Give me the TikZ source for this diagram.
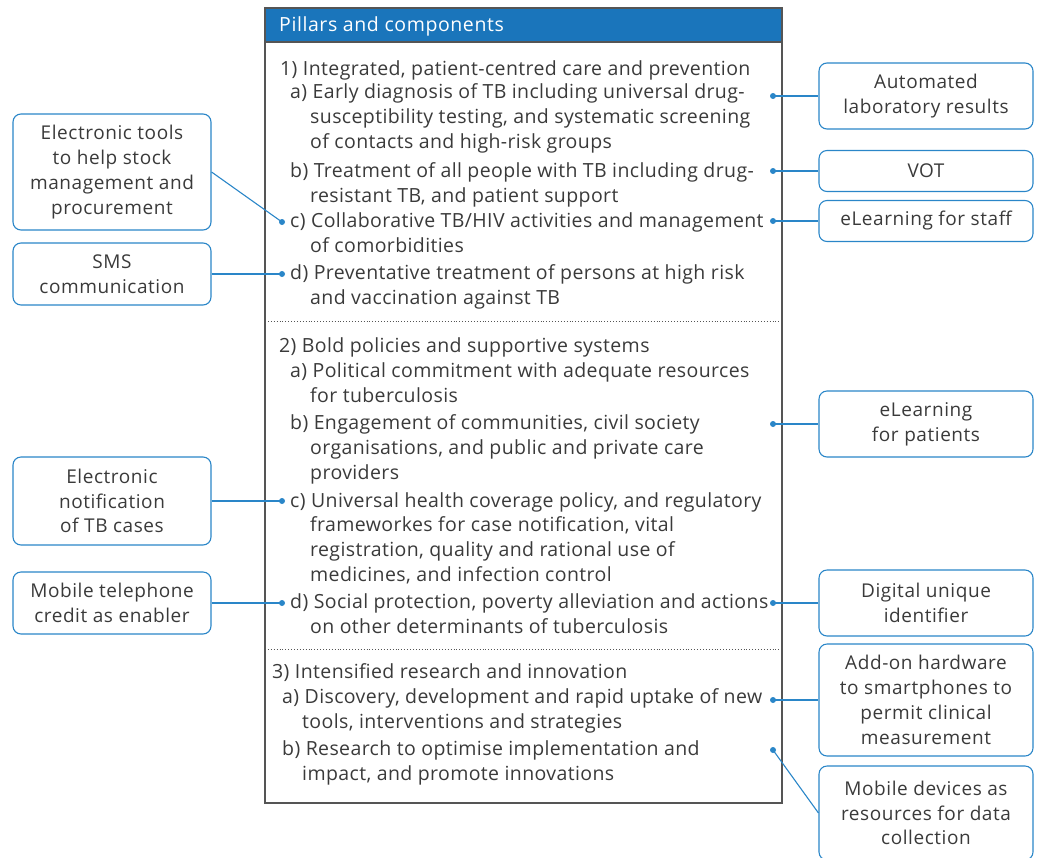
\documentclass[tikz,border=0pt]{standalone}
\usepackage{fontspec}
\setmainfont{Open Sans}
\newfontfamily\bodyfont[LetterSpace=2]{Open Sans}
\newfontfamily\toolfont[LetterSpace=3]{Open Sans}
\definecolor{hdrblue}{HTML}{1A75BB}
\definecolor{lnblue}{HTML}{2A86C8}
\definecolor{txtgray}{HTML}{3A3A3A}
\definecolor{frmgray}{HTML}{555555}

\begin{document}
\begin{tikzpicture}[x=1pt, y=-1pt,
	every node/.style={text=txtgray},
	item/.style={anchor=base west, align=left, inner sep=0pt, font=\bodyfont\fontsize{19.5}{24.8}\selectfont},
	tool/.style={draw=lnblue, line width=1.1pt, rounded corners=8pt, align=center, minimum width=198pt, inner sep=0pt, font=\toolfont\fontsize{19}{24.8}\selectfont},
	dot/.style={circle, fill=lnblue, inner sep=0pt, minimum size=6pt},
	link/.style={lnblue, line width=1.1pt}]
		\useasboundingbox (0, 0) rectangle (1038, 857);
		
		% table of pillars
		\draw[fill=hdrblue, draw=frmgray, line width=1.4pt] (265, 8) rectangle (782, 42);
		\draw[frmgray, line width=1.4pt] (265, 42) rectangle (782, 803);
		\draw[frmgray, dotted, line width=0.9pt] (265, 321) -- (782, 321);
		\draw[frmgray, dotted, line width=0.9pt] (265, 649) -- (782, 649);
		
		\node[item, text=white, font=\toolfont\fontsize{19.5}{24.8}\selectfont] (hdr) at (279, 31) {Pillars and components};
		
		% base = last line of each item
		\node[item] (s1) at (280, 75.5) {1) Integrated, patient-centred care and prevention};
		\node[item] (p1a) at (290, 148.5) {a) Early diagnosis of TB including universal drug-\\\hspace*{20pt}susceptibility testing, and systematic screening\\\hspace*{20pt}of contacts and high-risk groups};
		\node[item] (p1b) at (290, 202.5) {b) Treatment of all people with TB including drug-\\\hspace*{20pt}resistant TB, and patient support};
		\node[item] (p1c) at (290, 252.5) {c) Collaborative TB/HIV activities and management\\\hspace*{20pt}of comorbidities};
		\node[item] (p1d) at (290, 304.5) {d) Preventative treatment of persons at high risk\\\hspace*{20pt}and vaccination against TB};
		
		\node[item] (s2) at (279, 352.5) {2) Bold policies and supportive systems};
		\node[item] (p2a) at (290, 402.5) {a) Political commitment with adequate resources\\\hspace*{20pt}for tuberculosis};
		\node[item] (p2b) at (290, 479.5) {b) Engagement of communities, civil society\\\hspace*{20pt}organisations, and public and private care\\\hspace*{20pt}providers};
		\node[item] (p2c) at (290, 581.5) {c) Universal health coverage policy, and regulatory\\\hspace*{20pt}frameworkes for case notification, vital\\\hspace*{20pt}registration, quality and rational use of\\\hspace*{20pt}medicines, and infection control};
		\node[item] (p2d) at (290, 633.5) {d) Social protection, poverty alleviation and actions\\\hspace*{20pt}on other determinants of tuberculosis};
		
		\node[item] (s3) at (272, 678.5) {3) Intensified research and innovation};
		\node[item] (p3a) at (282, 728.5) {a) Discovery, development and rapid uptake of new\\\hspace*{20pt}tools, interventions and strategies};
		\node[item] (p3b) at (282, 780.5) {b) Research to optimise implementation and\\\hspace*{20pt}impact, and promote innovations};
		
		% dots
		\node[dot] (r1a) at (773, 96) {};
		\node[dot] (r1b) at (773, 171) {};
		\node[dot] (r1c) at (773, 221) {};
		\node[dot] (r2b) at (773, 424) {};
		\node[dot] (r2d) at (773, 603) {};
		\node[dot] (r3a) at (773, 700) {};
		\node[dot] (r3b) at (773, 750) {};
		\node[dot] (l1c) at (282, 222) {};
		\node[dot] (l1d) at (282, 274) {};
		\node[dot] (l2c) at (282, 501) {};
		\node[dot] (l2d) at (282, 603) {};
		
		% digital tools
		\node[tool, minimum width=214pt, minimum height=66pt] (labres) at (926, 96) {Automated\\laboratory results};
		\node[tool, minimum width=214pt, minimum height=41pt] (vot) at (926, 171) {VOT};
		\node[tool, minimum width=214pt, minimum height=41pt] (elstaff) at (926, 221) {eLearning for staff};
		\node[tool, minimum width=214pt, minimum height=66pt] (elpat) at (926, 424) {eLearning\\for patients};
		\node[tool, minimum width=214pt, minimum height=66pt] (uid) at (926, 603) {Digital unique\\identifier};
		\node[tool, minimum width=214pt, minimum height=112pt] (addon) at (926, 700) {Add-on hardware\\to smartphones to\\permit clinical\\measurement};
		\node[tool, minimum width=214pt, minimum height=94pt] (mobdev) at (926, 813) {Mobile devices as\\resources for data\\collection};
		
		\node[tool, minimum height=116pt] (stock) at (112, 172) {Electronic tools\\to help stock\\management and\\procurement};
		\node[tool, minimum height=62pt] (sms) at (112, 274) {SMS\\communication};
		\node[tool, minimum height=88pt] (notif) at (112, 501) {Electronic\\notification\\of TB cases};
		\node[tool, minimum height=62pt] (credit) at (112, 603) {Mobile telephone\\credit as enabler};
		
		% connectors
		\draw[link] (r1a.center) -- (labres.west);
		\draw[link] (r1b.center) -- (vot.west);
		\draw[link] (r1c.center) -- (elstaff.west);
		\draw[link] (r2b.center) -- (elpat.west);
		\draw[link] (r2d.center) -- (uid.west);
		\draw[link] (r3a.center) -- (addon.west);
		\draw[link] (r3b.center) -- (mobdev.west);
		\draw[link] (stock.east) -- (l1c.center);
		\draw[link] (sms.east) -- (l1d.center);
		\draw[link] (notif.east) -- (l2c.center);
		\draw[link] (credit.east) -- (l2d.center);
	\end{tikzpicture}
\end{document}
